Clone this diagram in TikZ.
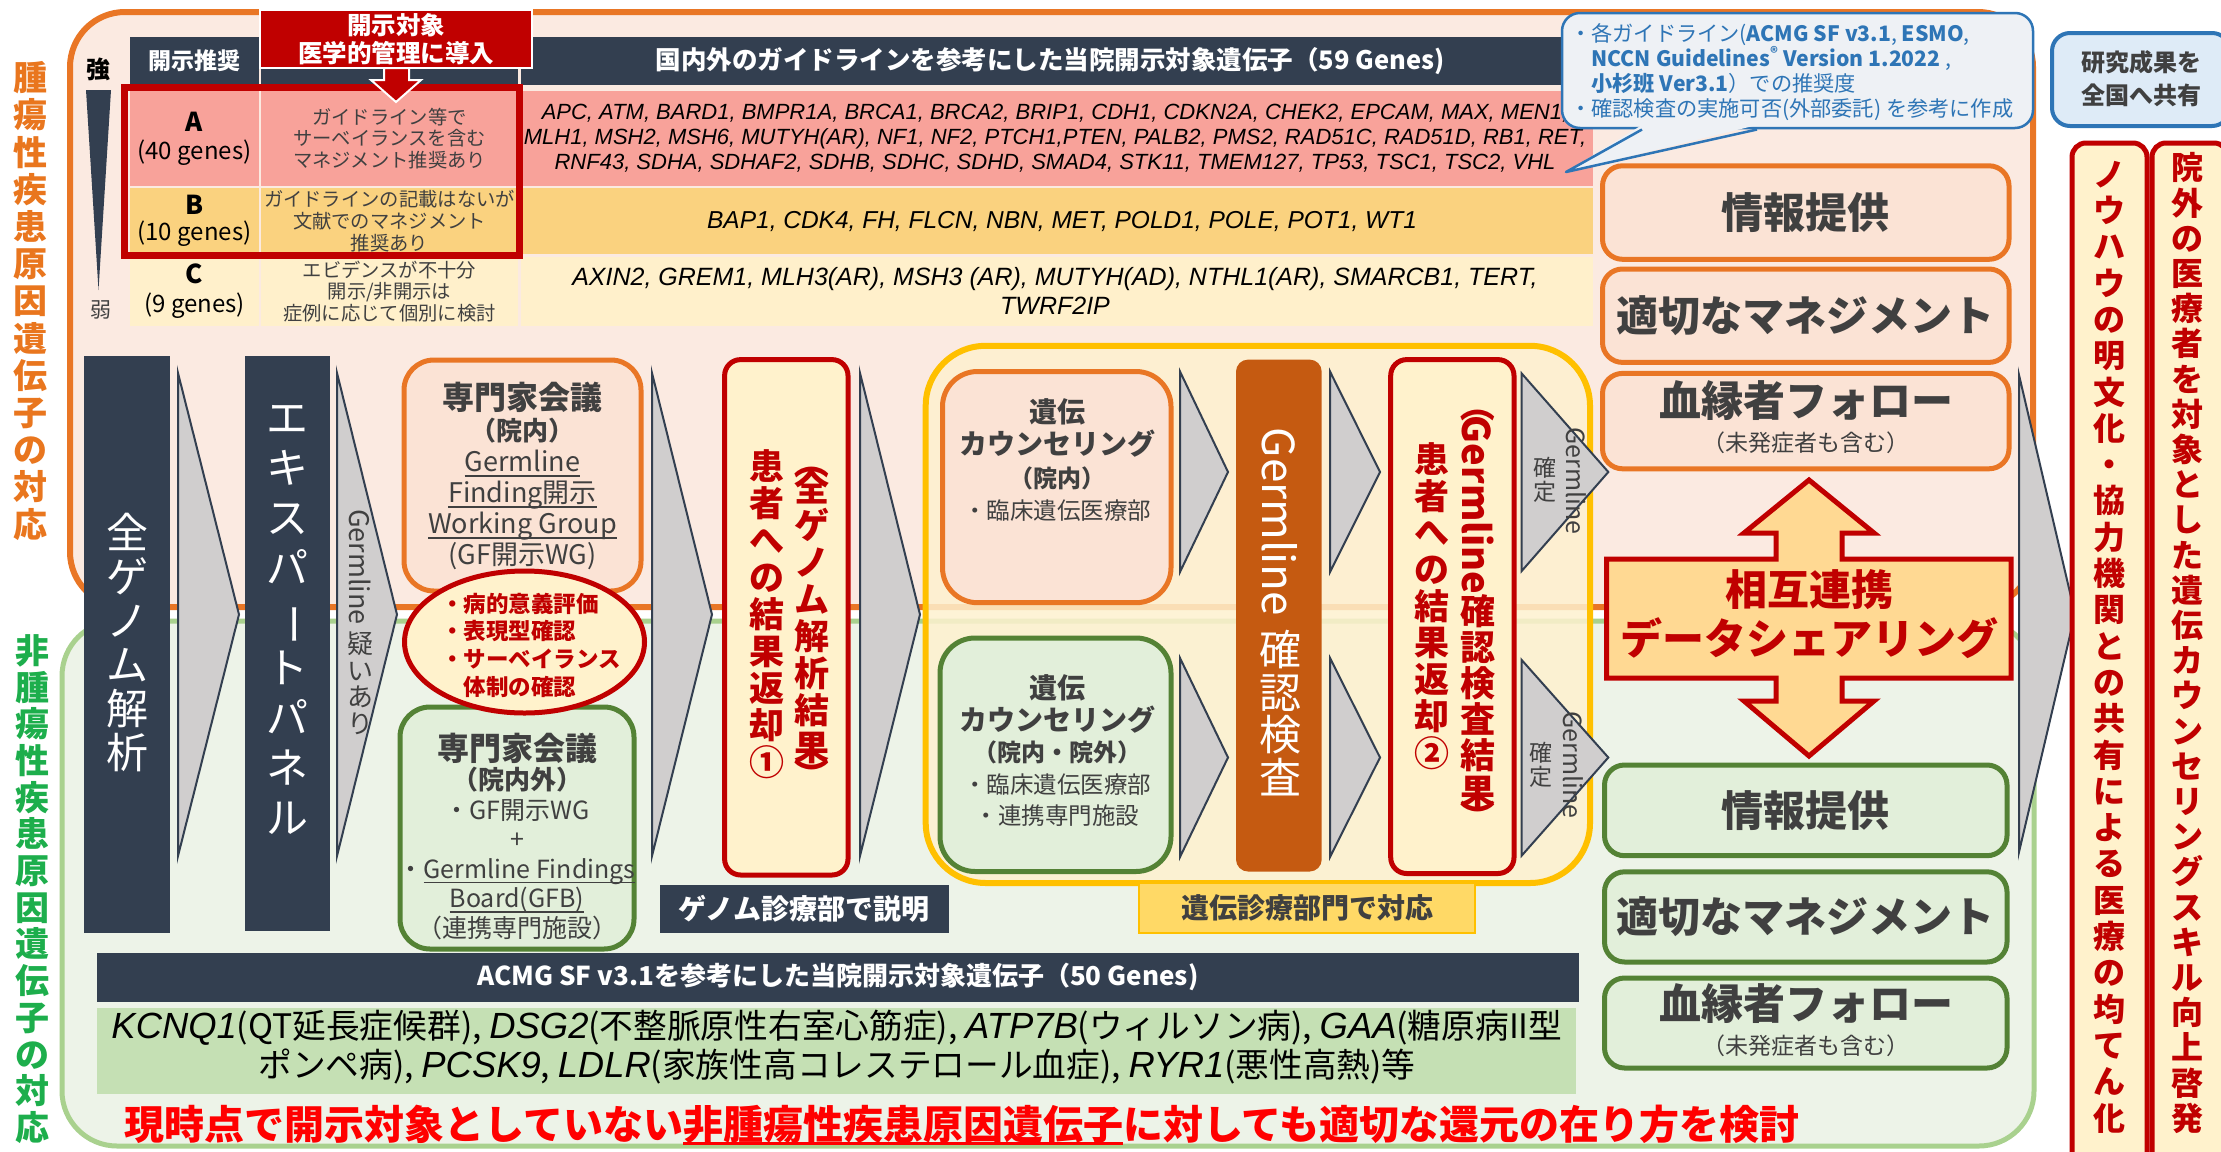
\documentclass[tikz,border=0pt]{standalone}
\usepackage{fontspec}
\usepackage{graphicx}
\setmainfont{Noto Sans CJK JP}
\newfontfamily\genefont{Liberation Sans}
\usetikzlibrary{fit,shapes.geometric}
\definecolor{navy}{HTML}{333F50}
\definecolor{orgb}{HTML}{E97625}
\definecolor{orglab}{HTML}{E9761E}
\definecolor{orgbg}{HTML}{FBEAE1}
\definecolor{orgbox}{HTML}{FBE3D5}
\definecolor{grnb}{HTML}{A9D18E}
\definecolor{grnbg}{HTML}{EDF3E8}
\definecolor{grnbox}{HTML}{E2EFDA}
\definecolor{grnd}{HTML}{548235}
\definecolor{grnlab}{HTML}{1DAE4C}
\definecolor{grnrow}{HTML}{C5E0B4}
\definecolor{redj}{HTML}{C00000}
\definecolor{cream}{HTML}{FFF2CC}
\definecolor{rowA}{HTML}{F8A29A}
\definecolor{rowB}{HTML}{FAD27F}
\definecolor{rowC}{HTML}{FFF0CB}
\definecolor{chev}{HTML}{D0CECE}
\definecolor{txt}{HTML}{404040}
\definecolor{blu}{HTML}{2E75B6}
\definecolor{blubg}{HTML}{DEEBF7}
\definecolor{callbg}{HTML}{EEF1F5}
\definecolor{brownj}{HTML}{C55A11}
\definecolor{yel}{HTML}{FFC000}
\definecolor{yelbg}{HTML}{FEF1CF}
\definecolor{yellab}{HTML}{FFD966}
\definecolor{dblarr}{HTML}{FFD993}
\definecolor{brightred}{HTML}{FF0000}
\newcommand\fsz[2]{\fontsize{#1pt}{#2pt}\selectfont}
\newcommand\vbarj{\rotatebox[origin=c]{-90}{ー}}
\newcommand\vlpj{\rotatebox[origin=c]{-90}{（}}
\newcommand\vrpj{\rotatebox[origin=c]{-90}{）}}
\newsavebox\ulbox
\newcommand\ulj[3]{\sbox\ulbox{#3}\rlap{\rule[#1]{\wd\ulbox}{#2}}\usebox\ulbox}
\newcommand\gij[1]{{\genefont\itshape #1}}
\newcommand\gbj[1]{{\genefont\itshape\fontsize{36.4pt}{39pt}\selectfont #1}}
\begin{document}
\begin{tikzpicture}[x=1pt,y=-1pt,
  every node/.style={inner sep=0pt},
  cellbox/.style={inner sep=0pt},
  lbl/.style={align=center},
  orgpanel/.style={cellbox, draw=orgb, fill=orgbox, line width=5pt, rounded corners=20pt},
  grnpanel/.style={cellbox, draw=grnd, fill=grnbox, line width=5pt, rounded corners=20pt},
  chevron/.style={fill=chev, draw=navy, line width=2pt},
  redbox/.style={cellbox, draw=redj, fill=cream, line width=5pt, rounded corners=16pt},
  darkbox/.style={cellbox, fill=navy},
  paneltext/.style={lbl, font=\fsz{42}{44}\bfseries, text=txt}]
\useasboundingbox (0,0) rectangle (2221,1151);
\fill[white] (0,0) rectangle (2221,1151);
% ---------------- regions
\draw[draw=orgb, fill=orgbg, line width=6pt, rounded corners=55pt] (70,12) rectangle (2033,607);
\draw[draw=grnb, fill=grnbg, line width=5pt, rounded corners=55pt] (62,621) rectangle (2034,1146);
% left labels
\node[lbl, font=\fsz{34}{37.2}\bfseries, text=orglab] (labo) at (30,301) {腫\\瘍\\性\\疾\\患\\原\\因\\遺\\伝\\子\\の\\対\\応};
\node[lbl, font=\fsz{34}{36.7}\bfseries, text=grnlab] (labg) at (32,889) {非\\腫\\瘍\\性\\疾\\患\\原\\因\\遺\\伝\\子\\の\\対\\応};
% ---------------- table
\fill[navy] (86,90) -- (111,90) -- (98.5,290) -- cycle;
\node[font=\fsz{24}{26}\bfseries] (strong) at (98,69) {強};
\node[font=\fsz{21}{24}, text=txt] (weak) at (101,310) {弱};
\node[darkbox, fit={(130,37) (259,85)}] (h1) {};
\node[lbl, text=white, font=\fsz{23}{26}\bfseries] at (h1.center) {開示推奨};
\node[darkbox, fit={(261,37) (518,85)}] (h2) {};
\node[darkbox, fit={(521,37) (1593,85)}] (h3) {};
\node[lbl, text=white, font=\fsz{25.5}{28}\bfseries] at (1050,61) {国内外のガイドラインを参考にした当院開示対象遺伝子（59 Genes)};
\node[cellbox, fill=rowA, fit={(130,91) (259,186)}] (a1) {};
\node[lbl, font=\fsz{24}{28}] at (a1.center) {{\bfseries\fsz{26}{28}A}\\(40 genes)};
\node[cellbox, fill=rowA, fit={(261,91) (518,186)}] (a2) {};
\node[lbl, font=\fsz{19.3}{21.7}, text=txt] at (a2.center) {ガイドライン等で\\サーベイランスを含む\\マネジメント推奨あり};
\node[cellbox, fill=rowA, fit={(521,91) (1593,186)}] (a3) {};
\node[lbl, font=\genefont\itshape\fsz{22}{25}] at (1055,138) {APC, ATM, BARD1, BMPR1A, BRCA1, BRCA2, BRIP1, CDH1, CDKN2A, CHEK2, EPCAM, MAX, MEN1,\\MLH1, MSH2, MSH6, MUTYH(AR), NF1, NF2, PTCH1,PTEN, PALB2, PMS2, RAD51C, RAD51D, RB1, RET,\\RNF43, SDHA, SDHAF2, SDHB, SDHC, SDHD, SMAD4, STK11, TMEM127, TP53, TSC1, TSC2, VHL};
\node[cellbox, fill=rowB, fit={(130,188) (259,254)}] (b1) {};
\node[lbl, font=\fsz{24}{26}] at (b1.center) {{\bfseries\fsz{26}{28}B}\\(10 genes)};
\node[cellbox, fill=rowB, fit={(261,188) (518,254)}] (b2) {};
\node[lbl, font=\fsz{19.3}{21.7}, text=txt] at (b2.center) {ガイドラインの記載はないが\\文献でのマネジメント\\推奨あり};
\node[cellbox, fill=rowB, fit={(521,188) (1593,254)}] (b3) {};
\node[lbl, font=\genefont\itshape\fsz{24.5}{27}] at (1062,221.5) {BAP1, CDK4, FH, FLCN, NBN, MET, POLD1, POLE, POT1, WT1};
\node[cellbox, fill=rowC, fit={(130,257) (259,326)}] (c1) {};
\node[lbl, font=\fsz{24}{29}] at (c1.center) {{\bfseries\fsz{26}{28}C}\\(9 genes)};
\node[cellbox, fill=rowC, fit={(261,257) (518,326)}] (c2) {};
\node[lbl, font=\fsz{19.3}{21.7}, text=txt] at (c2.center) {エビデンスが不十分\\開示/非開示は\\症例に応じて個別に検討};
\node[cellbox, fill=rowC, fit={(521,257) (1593,326)}] (c3) {};
\node[lbl, font=\genefont\itshape\fsz{25}{28.5}] at (1055,291) {AXIN2, GREM1, MLH3(AR), MSH3 (AR), MUTYH(AD), NTHL1(AR), SMARCB1, TERT,\\TWRF2IP};
\node[draw=redj, line width=7pt, fit={(124,87) (519.6,255)}] (redframe) {};
\node[cellbox, fill=redj, draw=white, line width=2pt, fit={(260,10) (532,68)}] (hdr) {};
\node[lbl, text=white, font=\fsz{24.5}{28.3}\bfseries] at (hdr.center) {開示対象\\医学的管理に導入};
\draw[fill=redj, draw=white, line width=2pt] (384,68) -- (409,68) -- (409,80) -- (421,80) -- (396,102) -- (371,80) -- (384,80) -- cycle;
% callout
\draw[fill=callbg, draw=blu, line width=2.5pt, rounded corners=18pt] (1562,13) rectangle (2033,128);
\fill[callbg] (1642,125) -- (1757,125) -- (1566,172) -- cycle;
\draw[blu, line width=2.5pt, line join=round] (1642,129.5) -- (1566,172) -- (1757,129.5);
\node[anchor=west, align=left, text=blu, font=\fsz{21.2}{25}] (ctext) at (1570,72) {・各ガイドライン(\textbf{ACMG SF v3.1}, \textbf{ESMO},\\\phantom{・}\textbf{NCCN Guidelines\textsuperscript{®} Version 1.2022} ,\\\phantom{・}\textbf{小杉班 Ver3.1}）での推奨度\\・確認検査の実施可否(外部委託) を参考に作成};
% share box
\node[cellbox, fill=blubg, draw=blu, line width=4pt, rounded corners=18pt, fit={(2052,33) (2230,126)}] (share) {};
\node[lbl, text=txt, font=\fsz{24}{33}\bfseries] (sharet) at (2141,79) {研究成果を\\全国へ共有};
% ---------------- flow
\node[darkbox, fit={(84,356) (170,933)}] (wgs) {};
\node[lbl, text=white, font=\fsz{42}{44}] at (127,642) {全\\ゲ\\ノ\\ム\\解\\析};
\draw[chevron] (178,373) -- (239,614.5) -- (178,856) -- cycle;
\node[darkbox, fit={(245,356) (330,931)}] (ep) {};
\node[lbl, text=white, font=\fsz{42}{50}] at (287.5,620) {エ\\キ\\ス\\パ\\\vbarj\\ト\\パ\\ネ\\ル};
\draw[chevron] (337,373) -- (397,614.5) -- (337,856) -- cycle;
\node[rotate=-90, font=\fsz{27}{30}, text=txt] (gsus) at (360,567) {Germline};
\node[lbl, anchor=north, font=\fsz{26}{26.5}, text=txt] (gsus2) at (360,632) {疑\\い\\あ\\り};
% expert meetings
\node[cellbox, draw=orgb, fill=orgbox, line width=5pt, rounded corners=30pt, fit={(404,360) (641,591)}] (em1) {};
\node[lbl, text=txt, font=\fsz{27}{31}] (em1t) at (522.5,476) {{\bfseries\fsz{32}{34}専門家会議}\\{\bfseries\fsz{26}{30}（院内）}\\\ulj{-5pt}{1.5pt}{Germline}\\\ulj{-5pt}{1.5pt}{Finding開示}\\\ulj{-5pt}{1.5pt}{Working Group}\\(GF開示WG)};
\node[cellbox, draw=grnd, fill=grnbox, line width=5pt, rounded corners=30pt, fit={(400,707) (634,949)}] (em2) {};
\node[lbl, text=txt, font=\fsz{25}{29.5}] (em2t) at (517,836) {{\bfseries\fsz{32}{34}専門家会議}\\{\bfseries\fsz{26}{30}（院内外）}\\・GF開示WG\\+\\・\ulj{-5pt}{1.5pt}{Germline Findings}\\\ulj{-5pt}{1.5pt}{Board(GFB)}\\（連携専門施設）};
\node[ellipse, draw=redj, fill=cream, line width=5pt, minimum width=240pt, minimum height=142pt] (ell) at (524.5,642) {};
\node[align=left, text=redj, font=\fsz{22.5}{27.7}\bfseries] (ellt) at (531,645) {・病的意義評価\\・表現型確認\\・サーベイランス\\\phantom{・}体制の確認};
\draw[chevron] (652,373) -- (712,614.5) -- (652,856) -- cycle;
\node[darkbox, fit={(660,885) (948.6,932.7)}] (expl) {};
\node[lbl, text=white, font=\fsz{28}{30}\bfseries] at (expl.center) {ゲノム診療部で説明};
% result return 1
\node[redbox, fit={(724.6,359.6) (848,875)}] (rr1) {};
\node[lbl, text=redj, font=\fsz{35}{37}\bfseries] (rr1a) at (812,618) {\vlpj\\[-10pt]全\\ゲ\\ノ\\ム\\解\\析\\結\\果\\[-10pt]\vrpj};
\node[lbl, text=redj, font=\fsz{35}{37}\bfseries] (rr1b) at (767,614) {患\\者\\へ\\の\\結\\果\\返\\却\\①};
\draw[chevron] (860,373) -- (920,614.5) -- (860,856) -- cycle;
% genetic counseling container
\node[draw=yel, fill=yelbg, fill opacity=0.85, line width=6pt, rounded corners=60pt, fit={(925.7,345.8) (1590,883)}] (gcc) {};
\node[cellbox, draw=yel, fill=yellab, line width=2pt, fit={(1139,883) (1475,932.7)}] (gclab) {};
\node[lbl, text=txt, font=\fsz{28}{30}\bfseries] at (gclab.center) {遺伝診療部門で対応};
\node[cellbox, draw=orgb, fill=orgbox, line width=5pt, rounded corners=35pt, fit={(942.5,371.5) (1171,602.7)}] (gc1) {};
\node[lbl, text=txt, font=\fsz{23.5}{32.3}] (gc1t) at (1057,460) {{\bfseries\fsz{28}{30}遺伝}\\{\bfseries\fsz{28}{30}カウンセリング}\\{\bfseries\fsz{24}{26}（院内）}\\・臨床遺伝医療部};
\node[cellbox, draw=grnd, fill=grnbox, line width=5pt, rounded corners=35pt, fit={(940,638) (1171,871.5)}] (gc2) {};
\node[lbl, text=txt, font=\fsz{23.5}{31.5}] (gc2t) at (1057,751) {{\bfseries\fsz{28}{30}遺伝}\\{\bfseries\fsz{28}{30}カウンセリング}\\{\bfseries\fsz{24}{26}（院内・院外）}\\・臨床遺伝医療部\\・連携専門施設};
\draw[chevron] (1180,371.5) -- (1228,472) -- (1180,572) -- cycle;
\draw[chevron] (1180,658) -- (1228,757.5) -- (1180,857) -- cycle;
\node[cellbox, fill=brownj, rounded corners=12pt, fit={(1236,359.6) (1321.7,871.5)}] (conf) {};
\node[rotate=-90, text=white, font=\fsz{44}{46}] (conf1) at (1280,522) {Germline};
\node[lbl, anchor=north, text=white, font=\fsz{42}{42.5}] (conf2) at (1280,630) {確\\認\\検\\査};
\draw[chevron] (1330,371.5) -- (1380,472) -- (1330,572) -- cycle;
\draw[chevron] (1330,658) -- (1380,757.5) -- (1330,857) -- cycle;
\node[redbox, fit={(1390.7,359.6) (1514,873.5)}] (rr2) {};
\node[text=redj, font=\fsz{35}{36}\bfseries] (rr2p) at (1478,405) {\vlpj};
\node[rotate=-90, text=redj, font=\fsz{38}{40}\bfseries] (rr2g) at (1478,505) {Germline};
\node[lbl, anchor=north, text=redj, font=\fsz{35}{36}\bfseries] (rr2a) at (1478,594) {確\\認\\検\\査\\結\\果\\[-10pt]\vrpj};
\node[lbl, text=redj, font=\fsz{35}{36.7}\bfseries] (rr2b) at (1432,606) {患\\者\\へ\\の\\結\\果\\返\\却\\②};
\draw[chevron] (1521.7,373.5) -- (1608.3,472) -- (1521.7,571) -- cycle;
\draw[chevron] (1521.7,660) -- (1608.3,757.5) -- (1521.7,855.6) -- cycle;
\node[rotate=-90, font=\fsz{25}{27}, text=txt] (gc1g) at (1576,481) {Germline};
\node[lbl, font=\fsz{23}{24}, text=txt] (gc1k) at (1545,480) {確\\定};
\node[rotate=-90, font=\fsz{25}{27}, text=txt] (gc2g) at (1573,765) {Germline};
\node[lbl, font=\fsz{23}{24}, text=txt] (gc2k) at (1541,765) {確\\定};
% ---------------- right panels
\node[orgpanel, fit={(1602.5,165.8) (2009,259.3)}] (p1) {};
\node[paneltext] at (p1.center) {情報提供};
\node[orgpanel, fit={(1602.5,269) (2009,362.4)}] (p2) {};
\node[paneltext] at (p2.center) {適切なマネジメント};
\node[orgpanel, fit={(1602.5,373.4) (2009,468.8)}] (p3) {};
\node[paneltext] (p3a) at (1806,401) {血縁者フォロー};
\node[font=\fsz{23}{25}, text=txt] (p3b) at (1806,443) {（未発症者も含む）};
\draw[fill=dblarr, draw=redj, line width=5pt] (1809,480) -- (1874,533) -- (1842,533) -- (1842,559) -- (2011,559) -- (2011,678) -- (1842,678) -- (1842,701) -- (1874,701) -- (1809,756) -- (1744,701) -- (1776,701) -- (1776,678) -- (1606.6,678) -- (1606.6,559) -- (1776,559) -- (1776,533) -- (1744,533) -- cycle;
\node[lbl, text=redj, font=\fsz{42}{49.5}\bfseries] (mutual) at (1809,614) {相互連携\\データシェアリング};
\node[grnpanel, fit={(1604.5,765) (2007,855.7)}] (q1) {};
\node[paneltext] at (q1.center) {情報提供};
\node[grnpanel, fit={(1604.5,871.8) (2007,962)}] (q2) {};
\node[paneltext] at (q2.center) {適切なマネジメント};
\node[grnpanel, fit={(1604.5,978) (2007,1068)}] (q3) {};
\node[paneltext] (q3a) at (1806,1004) {血縁者フォロー};
\node[font=\fsz{23}{25}, text=txt] (q3b) at (1806,1046) {（未発症者も含む）};
\draw[chevron] (2019,375) -- (2075,614) -- (2019,852) -- cycle;
\node[redbox, rounded corners=14pt, fit={(2072,143) (2147,1170)}] (v1) {};
\node[redbox, rounded corners=14pt, fit={(2152,143) (2228,1170)}] (v2) {};
\node[lbl, text=redj, font=\fsz{32}{36.3}\bfseries] (v1t) at (2109,647) {ノ\\ウ\\ハ\\ウ\\の\\明\\文\\化\\・\\協\\力\\機\\関\\と\\の\\共\\有\\に\\よ\\る\\医\\療\\の\\均\\て\\ん\\化};
\node[lbl, text=redj, font=\fsz{32}{35.2}\bfseries] (v2t) at (2187,643) {院\\外\\の\\医\\療\\者\\を\\対\\象\\と\\し\\た\\遺\\伝\\カ\\ウ\\ン\\セ\\リ\\ン\\グ\\ス\\キ\\ル\\向\\上\\啓\\発};
% ---------------- bottom
\node[darkbox, fit={(97,953) (1578.6,1001.7)}] (acmg) {};
\node[lbl, text=white, font=\fsz{26}{28}\bfseries] at (acmg.center) {ACMG SF v3.1を参考にした当院開示対象遺伝子（50 Genes)};
\node[cellbox, fill=grnrow, fit={(97,1008) (1576,1094)}] (sfgenes) {};
\node[lbl, font=\fsz{33.7}{39}] at (837,1047) {\gbj{KCNQ1}(QT延長症候群), \gbj{DSG2}(不整脈原性右室心筋症), \gbj{ATP7B}(ウィルソン病), \gbj{GAA}(糖原病II型\\ポンペ病), \gbj{PCSK9}, \gbj{LDLR}(家族性高コレステロール血症), \gbj{RYR1}(悪性高熱)等};
\node[text=brightred, font=\fsz{40}{42}\bfseries] (note) at (962,1125) {現時点で開示対象としていない\ulj{-6pt}{3pt}{非腫瘍性疾患原因遺伝子}に対しても適切な還元の在り方を検討};
\end{tikzpicture}
\end{document}
